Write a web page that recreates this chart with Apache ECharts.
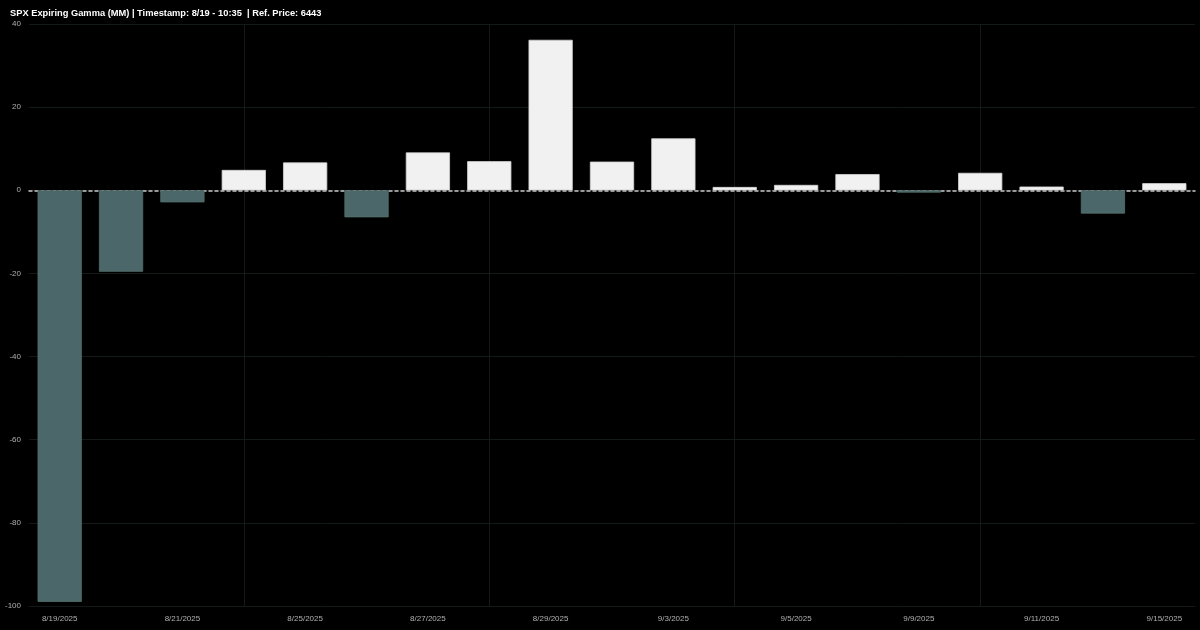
<!DOCTYPE html>
<html>
<head>
<meta charset="utf-8">
<script src="https://cdn.jsdelivr.net/npm/echarts@6/dist/echarts.min.js"></script>
<style>
html,body{margin:0;padding:0;background:#000;}
#chart{width:1200px;height:630px;}
</style>
</head>
<body>
<div id="chart"></div>
<script>
const titleText = "SPX Expiring Gamma (MM) | Timestamp: 8/19 - 10:35  | Ref. Price: 6443";
const categories = ["8/19/2025","8/20/2025","8/21/2025","8/22/2025","8/25/2025","8/26/2025","8/27/2025","8/28/2025","8/29/2025","9/2/2025","9/3/2025","9/4/2025","9/5/2025","9/8/2025","9/9/2025","9/10/2025","9/11/2025","9/12/2025","9/15/2025"];
const gammaValues = [-99.0,-19.6,-2.9,4.9,6.7,-6.5,9.1,7.0,36.2,6.9,12.5,0.8,1.3,3.9,-0.55,4.2,0.9,-5.6,1.7];
const weekGridCategories = ["8/22/2025","8/28/2025","9/4/2025","9/10/2025"];
const yTicks = {min:-100, max:40, interval:20};

const barData = gammaValues.map(function(v){
  return {
    value:v,
    itemStyle: v < 0
      ? {color:'#4b6769', borderColor:'#56726f', borderWidth:0.8}
      : {color:'#f1f1f1', borderColor:'#d4d4d4', borderWidth:0.8}
  };
});

const font = 'Liberation Sans, Arial, sans-serif';
const chart = echarts.init(document.getElementById('chart'));
chart.setOption({
  backgroundColor:'#000000',
  animation:false,
  title:{
    text:titleText, left:5, top:4,
    textStyle:{color:'#ffffff', fontSize:9.3, fontWeight:'bold', fontFamily:font}
  },
  grid:{left:29, right:5, top:24, bottom:24, containLabel:false},
  xAxis:{
    type:'category', data:categories,
    axisLine:{show:true, onZero:true, lineStyle:{color:'#c8c8c8', type:[3,3], width:1.5}},
    axisTick:{show:false},
    axisLabel:{color:'#b0b0b0', fontSize:8, interval:1, margin:9, fontFamily:font},
    splitLine:{show:false}
  },
  yAxis:{
    type:'value', min:yTicks.min, max:yTicks.max, interval:yTicks.interval,
    axisLine:{show:false}, axisTick:{show:false},
    axisLabel:{color:'#b0b0b0', fontSize:8, margin:8, fontFamily:font},
    splitLine:{show:true, lineStyle:{color:'#131818', width:1}}
  },
  series:[
    {
      type:'line', data:[], z:0, silent:true,
      markLine:{
        z:0, silent:true, symbol:['none','none'], label:{show:false},
        lineStyle:{color:'#141a1a', width:1, type:'solid'},
        data: weekGridCategories.map(function(c){return {xAxis:c};})
      }
    },
    {
      type:'bar', data:barData, barWidth:'72%', z:3
    }
  ]
});
</script>
</body>
</html>
